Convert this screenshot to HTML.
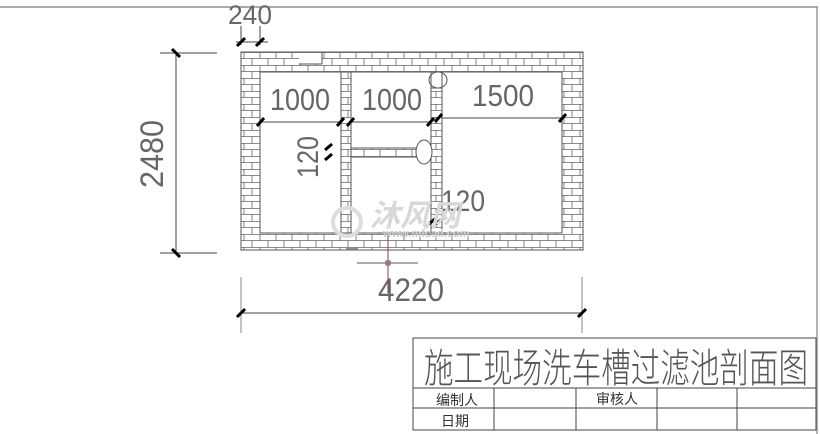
<!DOCTYPE html>
<html><head><meta charset="utf-8"><style>
html,body{margin:0;padding:0;background:#fff;width:820px;height:434px;overflow:hidden}
svg{display:block}
text{font-family:"Liberation Sans","Noto Sans CJK SC",sans-serif}
</style></head><body>
<svg width="820" height="434" viewBox="0 0 820 434" xmlns="http://www.w3.org/2000/svg">
<defs>
<pattern id="brick" x="0" y="52" width="16" height="13" patternUnits="userSpaceOnUse">
<rect width="16" height="13" fill="#fff"/>
<path d="M0 0.5H16M0 6.5H16M4 0V6.5M12 6.5V13" stroke="#666" stroke-width="0.8" fill="none"/>
</pattern>
</defs>
<line x1="0" y1="7" x2="818" y2="7" stroke="#555" stroke-width="1"/>
<line x1="817" y1="7" x2="817" y2="434" stroke="#999" stroke-width="1.5"/>

<path d="M241 52H583V250H241Z M260 72V233H562V72Z" fill="url(#brick)" fill-rule="evenodd" stroke="#555" stroke-width="1"/>
<rect x="299" y="53" width="23" height="11" fill="#fff"/>
<line x1="322" y1="53" x2="322" y2="64" stroke="#555"/>
<line x1="299" y1="64" x2="322" y2="64" stroke="#555"/>
<rect x="341" y="72" width="10" height="161" fill="url(#brick)" stroke="#555"/>
<rect x="431" y="88" width="11" height="145" fill="url(#brick)" stroke="#555"/>
<line x1="431" y1="72" x2="431" y2="88" stroke="#555"/>
<line x1="442" y1="72" x2="442" y2="88" stroke="#555"/>
<rect x="351" y="148" width="80" height="9" fill="url(#brick)" stroke="#555"/>
<ellipse cx="438" cy="80" rx="9" ry="8" fill="none" stroke="#555"/>
<ellipse cx="424" cy="152" rx="8" ry="12" fill="#fff" stroke="#555"/>
<rect x="346" y="248" width="12" height="2" fill="#888"/>

<g stroke="#444" stroke-width="1">
<line x1="260" y1="122" x2="341" y2="122"/>
<line x1="351" y1="122" x2="431" y2="122"/>
<line x1="442" y1="118" x2="562" y2="118"/>
<line x1="160" y1="53" x2="217" y2="53"/>
<line x1="160" y1="253" x2="217" y2="253"/>
<line x1="176" y1="53" x2="176" y2="253"/>
<line x1="241" y1="277" x2="241" y2="333" stroke="#888"/>
<line x1="582" y1="277" x2="582" y2="333" stroke="#888"/>
<line x1="241" y1="313" x2="582" y2="313"/>
<line x1="236" y1="42" x2="268" y2="42"/>
<line x1="241" y1="26" x2="241" y2="45"/>
<line x1="260" y1="26" x2="260" y2="45"/>
</g>
<g stroke="#000" stroke-width="3">
<line x1="172" y1="49" x2="180" y2="57"/>
<line x1="172" y1="249" x2="180" y2="257"/>
<line x1="237" y1="317" x2="245" y2="309"/>
<line x1="578" y1="317" x2="586" y2="309"/>
<line x1="237" y1="46" x2="245" y2="38"/>
<line x1="256" y1="46" x2="264" y2="38"/>
<line x1="257" y1="126" x2="264" y2="118"/>
<line x1="337" y1="126" x2="344" y2="118"/>
<line x1="347" y1="126" x2="354" y2="118"/>
<line x1="427" y1="126" x2="434" y2="118"/>
<line x1="435" y1="122" x2="442" y2="114"/>
<line x1="559" y1="122" x2="566" y2="114"/>
<line x1="325" y1="150" x2="332" y2="144"/>
<line x1="325" y1="160" x2="332" y2="154"/>
<line x1="429" y1="224" x2="436" y2="218"/>
<line x1="436" y1="224" x2="443" y2="218"/>
</g>

<g fill="#666" style="font-family:'Liberation Sans',sans-serif" lengthAdjust="spacingAndGlyphs">
<text x="270" y="110" font-size="31" textLength="60" lengthAdjust="spacingAndGlyphs">1000</text>
<text x="362" y="110" font-size="31" textLength="60" lengthAdjust="spacingAndGlyphs">1000</text>
<text x="472" y="106" font-size="31" textLength="62" lengthAdjust="spacingAndGlyphs">1500</text>
<text x="228" y="24" font-size="27" textLength="44" lengthAdjust="spacingAndGlyphs">240</text>
<text x="378" y="301" font-size="32" textLength="66" lengthAdjust="spacingAndGlyphs">4220</text>
<text x="441" y="211" font-size="30" textLength="44" lengthAdjust="spacingAndGlyphs">120</text>
<text transform="translate(318,178) rotate(-90)" font-size="30" textLength="42" lengthAdjust="spacingAndGlyphs">120</text>
<text transform="translate(163,188) rotate(-90)" font-size="32" textLength="68" lengthAdjust="spacingAndGlyphs">2480</text>
</g>
<text x="370" y="226" font-size="30" font-weight="bold" font-style="italic" fill="#d8d8d8" style="font-family:'Noto Sans CJK SC',sans-serif">沐风网</text>
<text x="383" y="237" font-size="11" font-weight="bold" fill="#ccc">www.mfcad.com</text>
<circle cx="347" cy="222" r="14" fill="none" stroke="#ddd" stroke-width="4"/>

<g stroke="#7a4a4a" stroke-width="1">
<line x1="388" y1="236" x2="388" y2="293"/>
<line x1="357" y1="263" x2="418" y2="263"/>
<rect x="386" y="261" width="4" height="4" fill="none"/>
</g>

<g stroke="#444" stroke-width="1" fill="none">
<rect x="413" y="338" width="403" height="92"/>
<line x1="413" y1="388" x2="816" y2="388"/>
<line x1="413" y1="408" x2="816" y2="408"/>
<line x1="494" y1="388" x2="494" y2="430"/>
<line x1="576" y1="388" x2="576" y2="430"/>
<line x1="657" y1="388" x2="657" y2="430"/>
<line x1="737" y1="388" x2="737" y2="430"/>
</g>
<text x="424" y="382" font-size="40" fill="#555" textLength="384" lengthAdjust="spacingAndGlyphs" style="font-family:'Noto Sans CJK SC',sans-serif;font-weight:200">施工现场洗车槽过滤池剖面图</text>
<text x="436" y="405" font-size="14" fill="#333" style="font-family:'Noto Sans CJK SC',sans-serif">编制人</text>
<text x="596" y="404" font-size="14" fill="#333" style="font-family:'Noto Sans CJK SC',sans-serif">审核人</text>
<text x="441" y="426" font-size="14" fill="#333" style="font-family:'Noto Sans CJK SC',sans-serif">日期</text>
</svg>
</body></html>
